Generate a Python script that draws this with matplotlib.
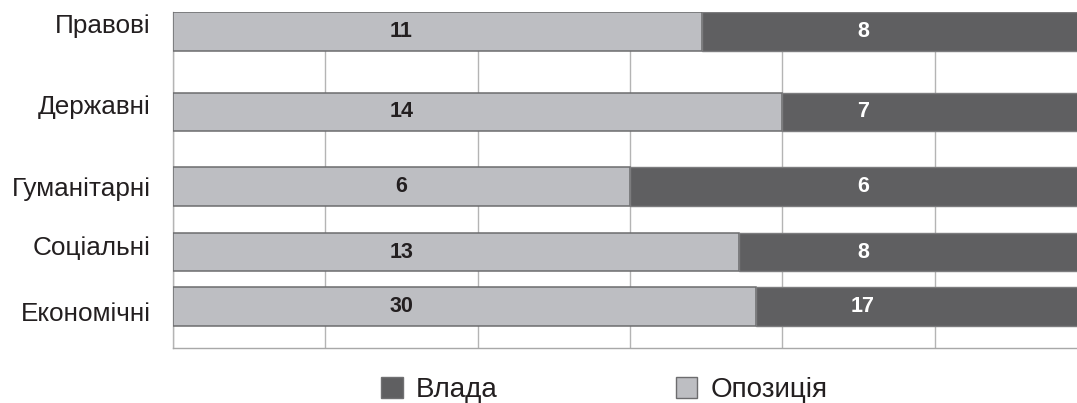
import matplotlib
matplotlib.use("Agg")
import matplotlib.pyplot as plt
import matplotlib.transforms as mtransforms
from matplotlib.patches import Patch
from matplotlib.ticker import MultipleLocator

# ---- data ----
categories = ["Правові", "Державні", "Гуманітарні", "Соціальні", "Економічні"]
opposition = [11, 14, 6, 13, 30]   # Опозиція
power = [8, 7, 6, 8, 17]           # Влада
series_names = ["Влада", "Опозиція"]

# ---- layout / style ----
row_pos = [0.0, 2.09, 4.03, 5.73, 7.14]
label_shift_px = [7.5, 7, 0.5, 7, -5.5]   # vertical nudge of row labels
bar_h = 1.0
light = "#bdbec2"
dark = "#5f5f61"
font = ["Liberation Sans", "DejaVu Sans"]
plt.rcParams["font.family"] = font

fig = plt.figure(figsize=(10.77, 4.03), dpi=100)
ax = fig.add_axes([173 / 1077, 55 / 403, 914 / 1077, 336 / 403])

shares_opp = [o / (o + p) * 100 for o, p in zip(opposition, power)]
shares_pow = [p / (o + p) * 100 for o, p in zip(opposition, power)]

ax.barh(row_pos, shares_opp, height=bar_h, color=light, edgecolor="#6c6c6e",
        linewidth=1.1, zorder=3)
ax.barh(row_pos, shares_pow, left=shares_opp, height=bar_h, color=dark,
        edgecolor="#7c7c7e", linewidth=1.0, zorder=3)

for y, o, p in zip(row_pos, opposition, power):
    ax.text(25, y, str(o), ha="center", va="center", fontsize=15.5,
            fontweight="bold", color="#231f20", zorder=4)
    ax.text(75.5, y, str(p), ha="center", va="center", fontsize=15.5,
            fontweight="bold", color="white", zorder=4)

ax.set_xlim(0, 100)
ax.set_ylim(8.22, -0.5)
ax.xaxis.set_major_locator(MultipleLocator(100 / 6))
ax.grid(axis="x", color="#b4b4b4", linewidth=1.0, zorder=0)
ax.set_axisbelow(True)
ax.tick_params(axis="x", length=0, labelbottom=False)
ax.tick_params(axis="y", length=0, pad=16, labelsize=18.8, labelcolor="#231f20")
ax.set_yticks(row_pos)
ax.set_yticklabels(categories)
for lab, dy in zip(ax.get_yticklabels(), label_shift_px):
    lab.set_transform(lab.get_transform() +
                      mtransforms.ScaledTranslation(0, dy / 100, fig.dpi_scale_trans))
for s in ["top", "right"]:
    ax.spines[s].set_visible(False)
ax.spines["bottom"].set_color("#a8a8a8")
ax.spines["left"].set_color("#b4b4b4")
ax.spines["bottom"].set_linewidth(1.0)
ax.spines["left"].set_linewidth(1.0)

handles = [Patch(facecolor=dark, edgecolor="#707072", linewidth=1.0),
           Patch(facecolor=light, edgecolor="#6c6c6e", linewidth=1.0)]
fig.legend(handles, series_names, loc="center left",
           bbox_to_anchor=(381 / 1077, 13 / 403), ncol=2, frameon=False,
           fontsize=20, handlelength=0.79, handleheight=0.76,
           handletextpad=0.47, columnspacing=6.4, borderpad=0,
           borderaxespad=0, labelcolor="#231f20")

fig.savefig("out.png", dpi=100)
